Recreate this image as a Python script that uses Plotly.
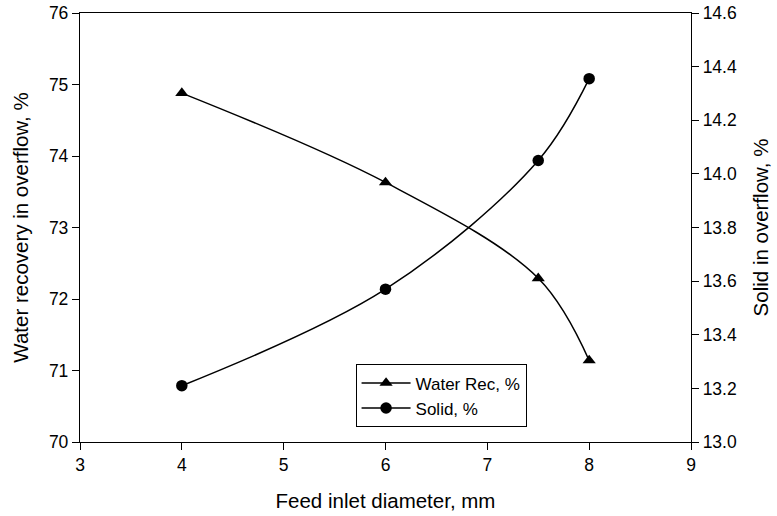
import plotly.graph_objects as go

# Data
feed_diameter = [4, 6, 7.5, 8]
water_rec = [74.88, 73.63, 72.29, 71.14]
solid = [13.21, 13.57, 14.05, 14.355]

x_ticks = [3, 4, 5, 6, 7, 8, 9]
y1_ticks = [70, 71, 72, 73, 74, 75, 76]
y2_ticks = [13.0, 13.2, 13.4, 13.6, 13.8, 14.0, 14.2, 14.4, 14.6]

FONT = "Liberation Sans, Arial, sans-serif"

fig = go.Figure()
fig.add_trace(go.Scatter(
    x=feed_diameter, y=water_rec, name="Water Rec, %",
    mode="lines+markers",
    line=dict(color="black", width=1.5, shape="spline", smoothing=1.0),
    marker=dict(symbol="triangle-up", size=11.5, color="black"),
    yaxis="y",
))
fig.add_trace(go.Scatter(
    x=feed_diameter, y=solid, name="Solid, %",
    mode="lines+markers",
    line=dict(color="black", width=1.5, shape="spline", smoothing=1.0),
    marker=dict(symbol="circle", size=11.5, color="black"),
    yaxis="y2",
))

axis_common = dict(
    showgrid=False, zeroline=False, automargin=False,
    showline=True, linecolor="black", linewidth=1.3,
    ticks="outside", ticklen=7, tickwidth=1.3, tickcolor="black",
    tickfont=dict(family=FONT, size=17.5, color="black"),
)

fig.update_layout(
    width=777, height=516,
    margin=dict(l=80, r=86, t=13, b=74),
    paper_bgcolor="white", plot_bgcolor="white",
    font=dict(family=FONT, color="black"),
    xaxis=dict(
        range=[3, 9], tickvals=x_ticks, mirror=True,
        title=dict(text="Feed inlet diameter, mm", font=dict(family=FONT, size=20.5), standoff=19),
        **axis_common,
    ),
    yaxis=dict(
        range=[70, 76], tickvals=y1_ticks,
        title=dict(text="Water recovery in overflow, %", font=dict(family=FONT, size=20.5), standoff=14),
        **axis_common,
    ),
    yaxis2=dict(
        range=[13.0, 14.6], tickvals=y2_ticks, tickformat=".1f",
        overlaying="y", side="right",
        title=dict(text="Solid in overflow, %", font=dict(family=FONT, size=20.5), standoff=17),
        **axis_common,
    ),
    legend=dict(
        x=0.451, y=0.181, xanchor="left", yanchor="top",
        bordercolor="black", borderwidth=1, bgcolor="white",
        font=dict(family=FONT, size=17, color="black"),
        itemwidth=49, tracegroupgap=0,
    ),
    showlegend=True,
)

# Remove the browser's default body margin so the figure sits at the window origin
fig.write_html(
    "out.html",
    config={"displayModeBar": False},
    post_script="document.body.style.margin='0';",
)
